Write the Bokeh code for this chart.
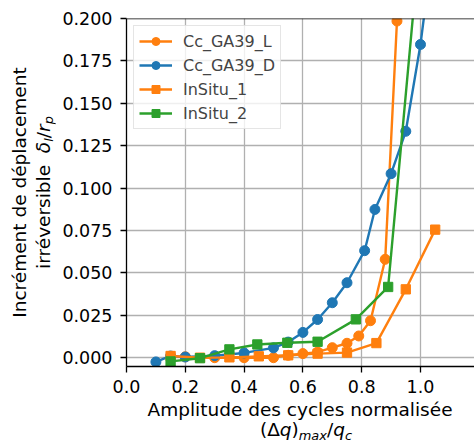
from bokeh.plotting import figure
from bokeh.models import Range1d, FixedTicker, Span, Legend, LegendItem, Div
from bokeh.layouts import row, column
from bokeh.embed import file_html
from bokeh.resources import INLINE

# ---- data ----
series_names = ["Cc_GA39_L", "Cc_GA39_D", "InSitu_1", "InSitu_2"]

l_x = [0.20, 0.30, 0.40, 0.50, 0.55, 0.60, 0.65, 0.70, 0.75, 0.79, 0.83, 0.88, 0.92]
l_y = [0.0005, 0.000, 0.000, 0.000, 0.0014, 0.0024, 0.0033, 0.0059, 0.0085, 0.0128, 0.0218, 0.058, 0.1985]

d_x = [0.10, 0.15, 0.20, 0.30, 0.40, 0.50, 0.55, 0.60, 0.65, 0.70, 0.75, 0.81, 0.845, 0.90, 0.95, 1.00, 1.05]
d_y = [-0.0025, 0.001, 0.0004, 0.0012, 0.0028, 0.0058, 0.0092, 0.0149, 0.0225, 0.0324, 0.0442, 0.0631, 0.0874, 0.1085, 0.1335, 0.1847, 0.253]

s1_x = [0.15, 0.25, 0.35, 0.45, 0.55, 0.65, 0.75, 0.85, 0.95, 1.05]
s1_y = [0.001, 0.000, 0.0002, 0.0008, 0.0014, 0.0024, 0.003, 0.0086, 0.0403, 0.0755]

s2_x = [0.15, 0.25, 0.35, 0.445, 0.547, 0.65, 0.78, 0.89, 1.00]
s2_y = [-0.0022, -0.0003, 0.0049, 0.0078, 0.0088, 0.0094, 0.0226, 0.0417, 0.25]

x_ticks = [0.0, 0.2, 0.4, 0.6, 0.8, 1.0]
x_tick_labels = ["0.0", "0.2", "0.4", "0.6", "0.8", "1.0"]
y_ticks = [0.0, 0.025, 0.05, 0.075, 0.1, 0.125, 0.15, 0.175, 0.2]
y_tick_labels = ["0.000", "0.025", "0.050", "0.075", "0.100", "0.125", "0.150", "0.175", "0.200"]

x_label_line1 = "Amplitude des cycles normalisée"
y_label_line1 = "Incrément de déplacement"
y_label_line2 = "irréversible"

# ---- styling ----
FONT = "DejaVu Sans"
ORANGE = "#ff7f0e"
BLUE = "#1f77b4"
GREEN = "#2ca02c"
TICK_FS = 17.5
LAB_FS = 18.5
LEG_FS = 16

W, H = 474, 443
YDIV_W = 55           # width of the y-label strip
PLOT_H = 400          # height of the figure (x-label strip below)
FL, FT, FB = 126, 18, 366  # frame left/top/bottom in page px

p = figure(width=W - YDIV_W, height=PLOT_H, output_backend="svg", toolbar_location=None,
           x_range=Range1d(0, 1.1837), y_range=Range1d(-0.0052, 0.2),
           min_border_left=FL - YDIV_W, min_border_right=0, min_border_top=FT,
           min_border_bottom=PLOT_H - FB, margin=0)
p.outline_line_color = None
p.background_fill_color = "white"
p.border_fill_color = "white"

p.xaxis.ticker = FixedTicker(ticks=x_ticks)
p.yaxis.ticker = FixedTicker(ticks=y_ticks)
p.xaxis.major_label_overrides = {t: s for t, s in zip(x_ticks, x_tick_labels)}
p.yaxis.major_label_overrides = {t: s for t, s in zip(y_ticks, y_tick_labels)}
for ax in (p.xaxis[0], p.yaxis[0]):
    ax.axis_line_color = "black"
    ax.axis_line_width = 1.3
    ax.major_tick_line_color = "black"
    ax.major_tick_line_width = 1.3
    ax.major_tick_out = 6
    ax.major_tick_in = 0
    ax.minor_tick_line_color = None
    ax.major_label_text_font = FONT
    ax.major_label_text_font_size = f"{TICK_FS}px"
    ax.major_label_text_color = "black"
p.xaxis[0].major_label_standoff = 7
p.yaxis[0].major_label_standoff = 8
p.xgrid.ticker = FixedTicker(ticks=x_ticks)
p.ygrid.ticker = FixedTicker(ticks=y_ticks)
for g in (p.xgrid[0], p.ygrid[0]):
    g.grid_line_color = "#b0b0b0"
    g.grid_line_width = 1.3

p.add_layout(Span(location=0.2, dimension="width", line_color="black", line_width=1.3))

series = [
    (l_x, l_y, ORANGE, "circle", 10),
    (d_x, d_y, BLUE, "circle", 10),
    (s1_x, s1_y, ORANGE, "square", 9.3),
    (s2_x, s2_y, GREEN, "square", 9.3),
]
items = []
for name, (xs, ys, col, mk, sz) in zip(series_names, series):
    rl = p.line(xs, ys, line_color=col, line_width=2.4)
    rs = p.scatter(xs, ys, marker=mk, size=sz, fill_color=col, line_color=col)
    items.append(LegendItem(label=name, renderers=[rl, rs]))

legend = Legend(items=items, location="top_left", margin=7, padding=5, spacing=4,
                glyph_width=33, glyph_height=20, label_height=20, label_standoff=11,
                border_line_color="#cccccc", border_line_width=1,
                background_fill_color="white", background_fill_alpha=0.8,
                label_text_font=FONT, label_text_font_size=f"{LEG_FS}px")
p.add_layout(legend)

# ---- axis labels (HTML text with italics and subscripts) ----
SUB = "font-size:0.7em;vertical-align:-3.7px;line-height:0;font-style:italic;"
base_style = (f"position:relative;font-family:'{FONT}';font-size:{LAB_FS}px;"
              "color:black;")

xdiv_h = H - PLOT_H
x_html = (
    f"<div style=\"{base_style}width:{W}px;height:{xdiv_h}px;line-height:20px;\">"
    f"<div style=\"position:absolute;left:{FL}px;width:{W - FL}px;top:0px;"
    f"text-align:center;white-space:nowrap;\">{x_label_line1}</div>"
    f"<div style=\"position:absolute;left:{FL + 6}px;width:{W - FL}px;top:20px;"
    f"text-align:center;white-space:nowrap;\">(Δ<i>q</i>)<span style=\"{SUB}\">max</span>"
    f"/<i>q</i><span style=\"{SUB}\">c</span></div>"
    "</div>"
)
xdiv = Div(text=x_html, width=W, height=xdiv_h, margin=0, styles={"overflow": "visible"})

cy_mid = (FT + FB) / 2
blk_w, blk_h, lh = 300, 47, 23.5
cx_blk = 31.3
y_html = (
    f"<div style=\"{base_style}width:{YDIV_W}px;height:{PLOT_H}px;\">"
    f"<div style=\"position:absolute;left:{cx_blk - blk_w / 2}px;top:{cy_mid - blk_h / 2}px;"
    f"width:{blk_w}px;height:{blk_h}px;line-height:{lh}px;text-align:center;"
    f"white-space:nowrap;transform:rotate(-90deg);\">"
    f"{y_label_line1}<br>{y_label_line2}&nbsp; <i>δ</i><span style=\"{SUB}\">l</span>"
    f"/<i>r</i><span style=\"{SUB}\">p</span></div>"
    "</div>"
)
ydiv = Div(text=y_html, width=YDIV_W, height=PLOT_H, margin=0, styles={"overflow": "visible"})

layout = column(row(ydiv, p, spacing=0, margin=0), xdiv, spacing=0, margin=0)

open("out.html", "w").write(file_html(layout, INLINE))
